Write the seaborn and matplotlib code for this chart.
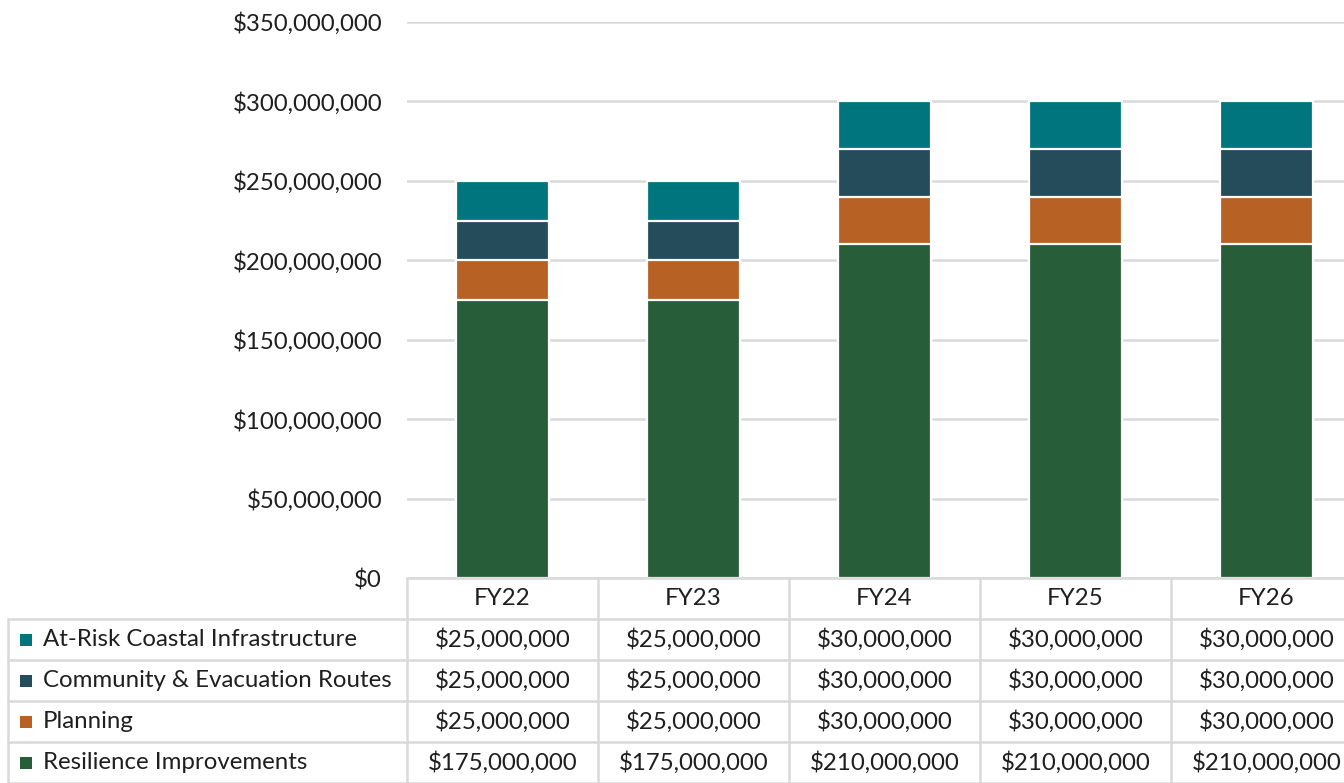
import numpy as np
import matplotlib
matplotlib.use("Agg")
import matplotlib.pyplot as plt
import seaborn as sns
from matplotlib.transforms import blended_transform_factory
from matplotlib.patches import Rectangle
from matplotlib.lines import Line2D

# ---- data ----
years = ["FY22", "FY23", "FY24", "FY25", "FY26"]
series_names = ["At-Risk Coastal Infrastructure", "Community & Evacuation Routes",
                "Planning", "Resilience Improvements"]
at_risk = [25_000_000, 25_000_000, 30_000_000, 30_000_000, 30_000_000]
community = [25_000_000, 25_000_000, 30_000_000, 30_000_000, 30_000_000]
planning = [25_000_000, 25_000_000, 30_000_000, 30_000_000, 30_000_000]
resilience = [175_000_000, 175_000_000, 210_000_000, 210_000_000, 210_000_000]
colors = ["#00757E", "#254C5B", "#B76125", "#275E39"]
y_ticks = [0, 50_000_000, 100_000_000, 150_000_000, 200_000_000,
           250_000_000, 300_000_000, 350_000_000]

series = [at_risk, community, planning, resilience]  # table order (top row first)

sns.set_theme(style="white")
plt.rcParams["font.family"] = ["Lato", "DejaVu Sans"]

W, H = 1344, 783
fig = plt.figure(figsize=(W / 100, H / 100), dpi=100)
ax_left, ax_bottom, ax_top = 407, 578, 22
col_w = 191
ax = fig.add_axes([ax_left / W, (H - ax_bottom) / H,
                   col_w * len(years) / W, (ax_bottom - ax_top) / H])

text_color = "#1F1F1F"
grid_color = "#D9D9D9"
fs = 17.3

# ---- stacked bars: draw cumulative totals from top layer down ----
stack_bottom_up = list(reversed(series))
colors_bottom_up = list(reversed(colors))
cum = np.cumsum(np.array(stack_bottom_up, dtype=float), axis=0)
for level in range(len(series) - 1, -1, -1):
    sns.barplot(x=years, y=cum[level], order=years, color=colors_bottom_up[level],
                saturation=1, width=0.49, edgecolor="white", linewidth=1.6, ax=ax)

ax.set_xlim(-0.5, len(years) - 0.5)
ax.set_ylim(y_ticks[0], y_ticks[-1])
ax.set_yticks(y_ticks)
ax.set_yticklabels([f"${v:,.0f}" for v in y_ticks], fontsize=fs, color=text_color)
ax.tick_params(axis="y", length=0, pad=18)
ax.set_xticks([])
ax.set_xlabel("")
ax.set_ylabel("")
for s in ax.spines.values():
    s.set_visible(False)
ax.set_axisbelow(True)
ax.yaxis.grid(True, color=grid_color, linewidth=1.8)

# ---- data table under the axis ----
row_h = 41
n_rows = len(series) + 1
tr = blended_transform_factory(ax.transData, fig.transFigure)


def fy(py):
    return 1 - py / H


lw = 1.8
row_tops = [ax_bottom + i * row_h for i in range(n_rows + 1)]
label_left = 8
x_edges = [i - 0.5 for i in range(len(years) + 1)]

# horizontal rules
for i, py in enumerate(row_tops):
    fig.add_artist(Line2D([x_edges[0], x_edges[-1]], [fy(py), fy(py)], transform=tr,
                          color=grid_color, lw=lw, clip_on=False))
    if i >= 1:
        fig.add_artist(Line2D([label_left / W, ax_left / W], [fy(py), fy(py)],
                              transform=fig.transFigure, color=grid_color, lw=lw))
# vertical rules
for xe in x_edges:
    fig.add_artist(Line2D([xe, xe], [fy(row_tops[0]), fy(row_tops[-1])], transform=tr,
                          color=grid_color, lw=lw))
fig.add_artist(Line2D([label_left / W, label_left / W], [fy(row_tops[1]), fy(row_tops[-1])],
                      transform=fig.transFigure, color=grid_color, lw=lw))

# header
for i, yr in enumerate(years):
    fig.text(i, fy(row_tops[0] + row_h / 2), yr, transform=tr, ha="center", va="center",
             fontsize=fs, color=text_color)

# rows
for r, (name, vals, c) in enumerate(zip(series_names, series, colors)):
    cy = row_tops[r + 1] + row_h / 2
    sq = 12
    fig.add_artist(Rectangle(((label_left + 12) / W, fy(cy + sq / 2)), sq / W, sq / H,
                             transform=fig.transFigure, facecolor=c, edgecolor="none"))
    fig.text((label_left + 35) / W, fy(cy), name, ha="left", va="center",
             fontsize=fs, color=text_color)
    for i, v in enumerate(vals):
        fig.text(i, fy(cy), f"${v:,.0f}", transform=tr, ha="center", va="center",
                 fontsize=fs, color=text_color)

fig.savefig("out.png", dpi=100)
